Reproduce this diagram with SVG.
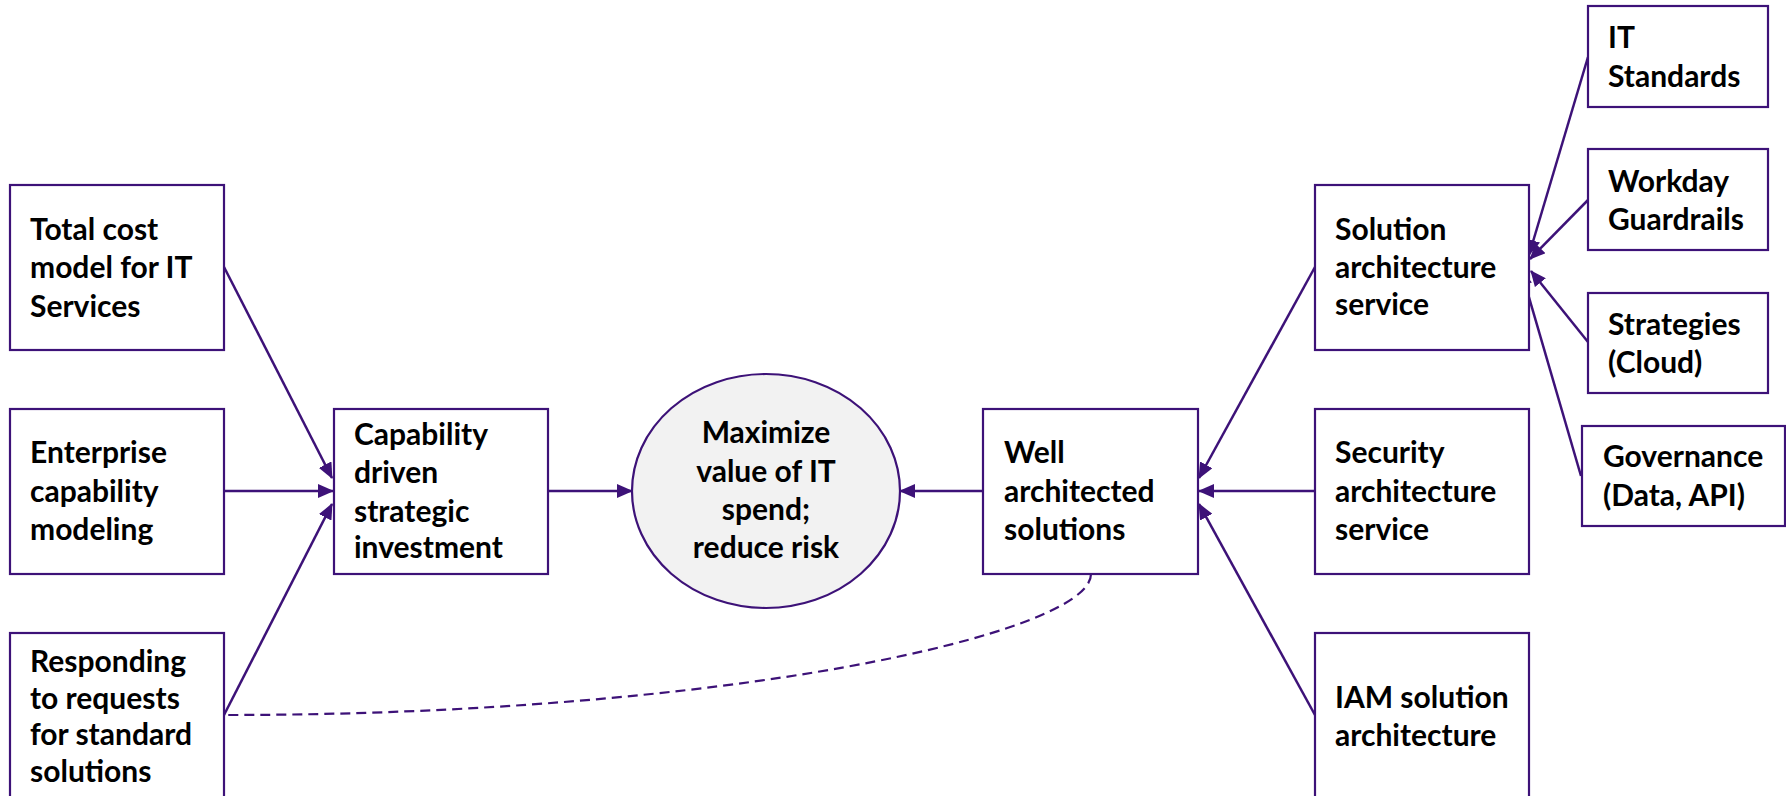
<svg xmlns="http://www.w3.org/2000/svg" width="1786" height="796" viewBox="0 0 1786 796">
<defs>
<style>
.box{fill:#ffffff;stroke:#3d1278;stroke-width:2.2}
.ell{fill:#f2f2f2;stroke:#3d1278;stroke-width:2.2}
.t{font-family:Lato,"Liberation Sans",sans-serif;font-weight:bold;font-size:30px;fill:#000000}
.c{text-anchor:middle}
.ln{stroke:#3d1278;stroke-width:2.5;fill:none}
.dash{stroke:#3d1278;stroke-width:2.2;fill:none;stroke-dasharray:10,6}
</style>
<marker id="ah" markerUnits="userSpaceOnUse" markerWidth="16" markerHeight="14" refX="15" refY="7" orient="auto">
<path d="M0,0 L16,7 L0,14 Z" fill="#3d1278"/>
</marker>
</defs>
<rect width="1786" height="796" fill="#ffffff"/>

<g id="connectors">
<line class="ln" x1="224" y1="267" x2="332" y2="478" marker-end="url(#ah)"/>
<line class="ln" x1="224" y1="491" x2="333" y2="491" marker-end="url(#ah)"/>
<line class="ln" x1="224" y1="715" x2="332" y2="504" marker-end="url(#ah)"/>
<line class="ln" x1="548" y1="491" x2="632" y2="491" marker-end="url(#ah)"/>
<line class="ln" x1="983" y1="491" x2="900" y2="491" marker-end="url(#ah)"/>
<line class="ln" x1="1315" y1="267" x2="1199" y2="478" marker-end="url(#ah)"/>
<line class="ln" x1="1315" y1="491" x2="1199" y2="491" marker-end="url(#ah)"/>
<line class="ln" x1="1315" y1="715" x2="1199" y2="504" marker-end="url(#ah)"/>
<line class="ln" x1="1588" y1="57" x2="1529" y2="255" marker-end="url(#ah)"/>
<line class="ln" x1="1588" y1="200" x2="1530" y2="259" marker-end="url(#ah)"/>
<line class="ln" x1="1588" y1="342" x2="1531" y2="271" marker-end="url(#ah)"/>
<line class="ln" x1="1581" y1="476" x2="1521" y2="270" marker-end="url(#ah)"/>
<path class="dash" d="M1091,574 C1091,634 725,715 225,715"/>
</g>

<g id="total-cost">
<rect class="box" x="10" y="185" width="214" height="165"/>
<text class="t" x="30" y="240">Total cost</text>
<text class="t" x="30" y="278">model for IT</text>
<text class="t" x="30" y="317">Services</text>
</g>

<g id="enterprise-capability">
<rect class="box" x="10" y="409" width="214" height="165"/>
<text class="t" x="30" y="463">Enterprise</text>
<text class="t" x="30" y="502">capability</text>
<text class="t" x="30" y="540">modeling</text>
</g>

<g id="responding">
<rect class="box" x="10" y="633" width="214" height="180"/>
<text class="t" x="30" y="672">Responding</text>
<text class="t" x="30" y="709">to requests</text>
<text class="t" x="30" y="745">for standard</text>
<text class="t" x="30" y="782">solutions</text>
</g>

<g id="capability-driven">
<rect class="box" x="334" y="409" width="214" height="165"/>
<text class="t" x="354" y="445">Capability</text>
<text class="t" x="354" y="483">driven</text>
<text class="t" x="354" y="522">strategic</text>
<text class="t" x="354" y="558">investment</text>
</g>

<g id="maximize-value">
<ellipse class="ell" cx="766" cy="491" rx="134" ry="117"/>
<text class="t c" x="766" y="443">Maximize</text>
<text class="t c" x="766" y="482">value of IT</text>
<text class="t c" x="766" y="520">spend;</text>
<text class="t c" x="766" y="558">reduce risk</text>
</g>

<g id="well-architected">
<rect class="box" x="983" y="409" width="215" height="165"/>
<text class="t" x="1004" y="463">Well</text>
<text class="t" x="1004" y="502">architected</text>
<text class="t" x="1004" y="540">solutions</text>
</g>

<g id="solution-architecture">
<rect class="box" x="1315" y="185" width="214" height="165"/>
<text class="t" x="1335" y="240">Solution</text>
<text class="t" x="1335" y="278">architecture</text>
<text class="t" x="1335" y="315">service</text>
</g>

<g id="security-architecture">
<rect class="box" x="1315" y="409" width="214" height="165"/>
<text class="t" x="1335" y="463">Security</text>
<text class="t" x="1335" y="502">architecture</text>
<text class="t" x="1335" y="540">service</text>
</g>

<g id="iam-solution">
<rect class="box" x="1315" y="633" width="214" height="180"/>
<text class="t" x="1335" y="708">IAM solution</text>
<text class="t" x="1335" y="746">architecture</text>
</g>

<g id="it-standards">
<rect class="box" x="1588" y="6" width="180" height="101"/>
<text class="t" x="1608" y="48">IT</text>
<text class="t" x="1608" y="87">Standards</text>
</g>

<g id="workday-guardrails">
<rect class="box" x="1588" y="149" width="180" height="101"/>
<text class="t" x="1608" y="192">Workday</text>
<text class="t" x="1608" y="230">Guardrails</text>
</g>

<g id="strategies">
<rect class="box" x="1588" y="293" width="180" height="100"/>
<text class="t" x="1608" y="335">Strategies</text>
<text class="t" x="1608" y="373">(Cloud)</text>
</g>

<g id="governance">
<rect class="box" x="1582" y="426" width="203" height="100"/>
<text class="t" x="1603" y="467">Governance</text>
<text class="t" x="1603" y="506">(Data, API)</text>
</g>
</svg>
